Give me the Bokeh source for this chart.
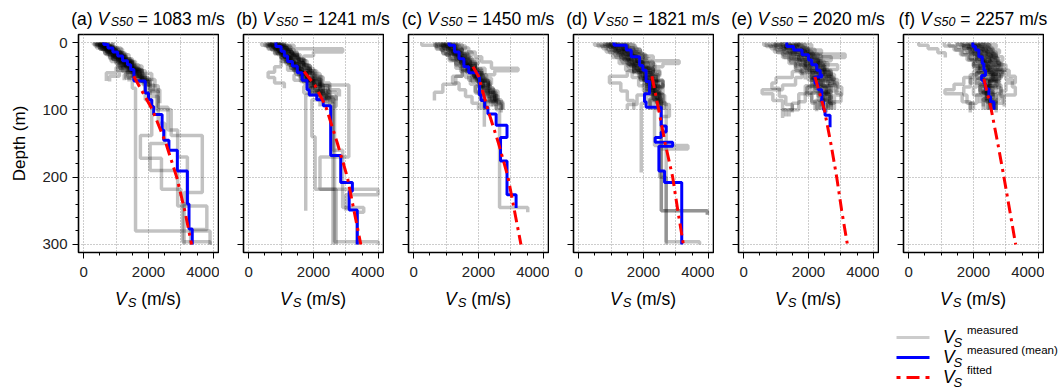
import math
from bokeh.plotting import figure
from bokeh.models import Range1d, FixedTicker, Div, Spacer
from bokeh.layouts import row, column
from bokeh.embed import file_html
from bokeh.resources import INLINE

FONT = "Liberation Sans"

# ---------------- data ----------------
PANEL_LETTERS = ["a", "b", "c", "d", "e", "f"]
VS50 = [1083, 1241, 1450, 1821, 2020, 2257]

X_TICKS = [0, 2000, 4000]
X_MINOR = [0, 500, 1000, 1500, 2000, 2500, 3000, 3500, 4000]
X_GRID = [0, 1000, 2000, 3000, 4000]
Y_TICKS = [0, 100, 200, 300]
Y_MINOR = [0, 20, 40, 60, 80, 100, 120, 140, 160, 180, 200, 220, 240, 260, 280, 300]

# measured profiles: [layer boundary depths (m)], [Vs of each layer (m/s)]
MEAS_A = [
    [[0, 5, 10, 16, 24, 32, 40], [350, 500, 650, 800, 1000, 1150]],
    [[0, 4, 9, 15, 21, 28, 36, 45], [450, 600, 750, 900, 1100, 1300, 1500]],
    [[0, 6, 12, 18, 26, 34, 44, 52], [550, 700, 850, 1050, 1250, 1400, 1650]],
    [[0, 3, 8, 14, 20, 28, 38, 50, 60], [600, 800, 950, 1150, 1300, 1500, 1700, 1900]],
    [[0, 5, 11, 19, 27, 35, 46, 58], [700, 900, 1100, 1300, 1500, 1800, 2100]],
    [[2, 8, 14, 22, 30, 38, 48], [500, 750, 950, 1200, 1400, 1600]],
    [[0, 7, 15, 24, 33, 42, 55, 68], [800, 1000, 1250, 1450, 1700, 1900, 2200]],
    [[0, 4, 10, 18, 25, 34, 42, 50, 58], [400, 550, 700, 900, 1150, 1350, 1100, 800]],
    [[0, 6, 13, 21, 30, 40, 52, 64, 75], [650, 850, 1050, 1300, 1550, 1750, 2000, 2300]],
    [[0, 8, 18, 28, 40, 55, 70, 90], [900, 1150, 1400, 1600, 1800, 2050, 2350]],
    [[0, 5, 12, 20, 30, 37, 45, 57], [500, 700, 900, 1100, 1300, 1000, 700]],
    [[0, 3, 7, 12, 18, 24, 30, 37, 45, 52], [300, 450, 600, 750, 900, 1050, 1200, 1350, 1500]],
    [[0, 4, 8, 13, 19, 26, 33, 41, 50, 60], [550, 650, 800, 950, 1100, 1250, 1400, 1550, 1750]],
    [[0, 2, 6, 11, 17, 23, 29, 36, 44, 55, 65], [450, 600, 750, 850, 1000, 1150, 1300, 1450, 1650, 1850]],
    [[0, 5, 10, 15, 21, 28, 35, 43, 52, 62, 72], [700, 850, 1000, 1150, 1300, 1450, 1600, 1750, 1950, 2150]],
    [[0, 3, 9, 14, 20, 27, 34, 42, 50, 58, 66], [350, 550, 700, 900, 1050, 1200, 1400, 1600, 1800, 2000]],
    [[0, 6, 12, 17, 23, 30, 38, 46, 54], [600, 750, 950, 1100, 1250, 1450, 1650, 1850]],
    [[0, 3, 6, 10, 14, 19, 24, 30, 36, 43, 50, 58], [400, 800, 600, 1000, 800, 1200, 1000, 1500, 1200, 1700, 1400]],
    [[0, 4, 8, 12, 17, 22, 28, 34, 41, 48, 56], [700, 400, 900, 650, 1100, 850, 1350, 1050, 1600, 1250]],
    [[0, 5, 9, 14, 19, 25, 31, 38, 45, 53, 62], [500, 900, 700, 1200, 900, 1400, 1100, 1700, 1300, 1900]],
    [[0, 10, 22, 36, 52, 68, 280, 300], [500, 800, 1100, 1350, 1500, 1600, 3900]],
    [[0, 9, 20, 33, 47, 60, 85, 138, 172, 218, 228], [650, 950, 1250, 1500, 1750, 1900, 2100, 1750, 2400, 3000]],
    [[0, 7, 16, 28, 42, 58, 80, 120, 150, 190, 243, 278, 300], [750, 1050, 1300, 1550, 1800, 2050, 2300, 2500, 2050, 2900, 3800, 3300]],
    [[0, 6, 14, 25, 40, 57, 75, 100, 138, 223, 300], [600, 850, 1150, 1450, 1700, 1900, 2250, 2700, 3660, 3100]],
    [[0, 10, 24, 40, 56, 72, 96, 130, 170, 240, 296, 300], [900, 1200, 1500, 1800, 2000, 2300, 2600, 2900, 3200, 3050, 3900]],
]
MEAS_B = [
    [[0, 5, 11, 18, 26, 34, 42, 50], [500, 700, 900, 1100, 1250, 1400, 1600]],
    [[0, 4, 9, 15, 22, 30, 38, 48, 58], [600, 800, 950, 1100, 1300, 1450, 1650, 1800]],
    [[0, 6, 12, 20, 28, 37, 46, 56, 66], [700, 900, 1050, 1250, 1400, 1600, 1800, 2000]],
    [[0, 3, 8, 14, 21, 29, 38, 50, 62, 75], [800, 1000, 1200, 1350, 1550, 1700, 1900, 2100, 2300]],
    [[0, 5, 10, 17, 25, 33, 42, 55, 68, 80, 90], [900, 1150, 1300, 1500, 1650, 1850, 2050, 2250, 2450, 2600]],
    [[0, 4, 10, 16, 24, 32, 40], [400, 600, 800, 1000, 1150, 1300]],
    [[0, 4, 9, 14, 20, 28], [1100, 1400, 2900, 2000, 1700]],
    [[0, 6, 14, 22, 30, 40, 50, 60, 72, 84], [650, 850, 1000, 1200, 1350, 1550, 1700, 1900, 2200]],
    [[20, 28, 36, 44, 52, 60, 68], [1300, 1000, 800, 600, 800, 1100]],
    [[0, 3, 7, 12, 18, 24, 31, 39, 47, 56, 66, 76, 88], [600, 750, 900, 1050, 1200, 1350, 1500, 1650, 1800, 1950, 2150, 2350]],
    [[0, 4, 9, 15, 21, 28, 36, 44, 53, 62, 72, 82, 92], [700, 850, 1000, 1150, 1300, 1450, 1600, 1800, 2000, 2200, 2400, 2600]],
    [[0, 2, 6, 11, 17, 23, 30, 38, 46, 55, 64, 74, 86], [800, 950, 1100, 1250, 1400, 1550, 1700, 1850, 2000, 2200, 2450, 2700]],
    [[0, 5, 10, 16, 23, 30, 38, 47, 57, 67, 78, 90], [550, 700, 850, 1000, 1150, 1300, 1450, 1650, 1850, 2100, 2400]],
    [[0, 3, 8, 13, 19, 26, 34, 42, 51, 60, 70, 80], [900, 1050, 1200, 1350, 1550, 1750, 1900, 2100, 2300, 2500, 2800]],
    [[0, 4, 9, 14, 20, 27, 35, 43, 52, 61, 71, 82, 92], [650, 800, 950, 1100, 1250, 1400, 1550, 1700, 1850, 2050, 2250, 2500]],
    [[0, 3, 6, 10, 14, 19, 24, 30, 36, 43, 50, 58, 67, 77, 88], [700, 1100, 800, 1300, 1000, 1500, 1200, 1700, 1400, 1900, 1600, 2200, 1900, 2500]],
    [[0, 4, 8, 12, 17, 22, 28, 34, 41, 48, 56, 65, 75, 86], [1000, 600, 1200, 800, 1400, 1000, 1600, 1200, 1800, 1400, 2100, 1700, 2400]],
    [[0, 5, 9, 14, 19, 25, 31, 38, 45, 53, 62, 72, 83, 95], [900, 1300, 1000, 1500, 1200, 1700, 1400, 1900, 1600, 2200, 1900, 2500, 2200]],
    [[0, 8, 16, 25, 35, 45, 55, 65, 78, 250], [750, 950, 1150, 1350, 1600, 1800, 2000, 2300, 1760]],
    [[0, 5, 12, 20, 30, 42, 56, 70, 85, 296, 300], [850, 1050, 1250, 1450, 1700, 1950, 2200, 2400, 2650, 4000]],
    [[0, 7, 15, 24, 34, 46, 63, 170, 218, 300], [1100, 1300, 1500, 1700, 1900, 2200, 3090, 2200, 2700]],
    [[0, 6, 14, 23, 33, 45, 60, 85, 140, 218, 226, 250], [950, 1150, 1350, 1550, 1800, 2000, 2200, 1950, 2050, 3990, 3000]],
    [[0, 5, 13, 22, 32, 44, 58, 72, 90, 160, 245, 252, 300], [700, 900, 1100, 1300, 1550, 1750, 2000, 2300, 2600, 2900, 3550, 3350]],
    [[0, 4, 10, 18, 27, 38, 50, 64, 80, 95, 300], [1000, 1200, 1400, 1600, 1800, 2000, 2250, 2500, 2700, 2600]],
]
MEAS_C = [
    [[0, 4, 10, 16, 24, 32, 42], [250, 700, 900, 1100, 1300, 1500]],
    [[0, 5, 11, 18, 26, 35, 45, 55], [650, 850, 1000, 1200, 1400, 1650, 1900]],
    [[0, 4, 9, 16, 23, 31, 40, 50, 62], [800, 950, 1100, 1300, 1450, 1650, 1850, 2050]],
    [[0, 6, 13, 21, 30, 40, 52, 65, 80, 95], [900, 1100, 1250, 1450, 1600, 1800, 2000, 2200, 2400]],
    [[0, 5, 12, 20, 28, 38, 48, 60, 74, 88, 100], [1000, 1200, 1400, 1550, 1750, 1950, 2150, 2350, 2550, 2750]],
    [[0, 7, 15, 24, 34, 44, 56, 70, 85, 100], [1100, 1300, 1500, 1700, 1900, 2100, 2300, 2500, 2700]],
    [[0, 3, 8, 14, 21, 29, 38, 42, 48, 60], [1300, 1500, 1700, 1900, 2100, 2400, 3220, 2500, 2200]],
    [[0, 8, 17, 27, 38, 50, 62, 74, 86], [700, 900, 1100, 1300, 1500, 1300, 900, 640]],
    [[0, 4, 9, 15, 22, 29, 37, 45, 54, 64, 75, 87, 100], [900, 1050, 1200, 1350, 1500, 1650, 1800, 1950, 2100, 2250, 2400, 2550]],
    [[0, 3, 8, 14, 20, 27, 35, 44, 53, 63, 74, 86, 100], [1000, 1150, 1300, 1450, 1600, 1750, 1900, 2050, 2200, 2350, 2500, 2650]],
    [[0, 5, 11, 17, 24, 32, 40, 49, 58, 68, 79, 90, 100], [1150, 1300, 1450, 1600, 1750, 1900, 2000, 2150, 2300, 2450, 2600, 2750]],
    [[0, 2, 7, 12, 18, 25, 33, 41, 50, 60, 70, 82, 95], [800, 950, 1100, 1250, 1400, 1550, 1700, 1850, 2000, 2150, 2300, 2450]],
    [[0, 4, 10, 16, 23, 31, 39, 48, 57, 67, 78, 90], [1200, 1350, 1500, 1650, 1800, 1950, 2100, 2250, 2350, 2450, 2550]],
    [[0, 6, 12, 19, 26, 34, 43, 52, 62, 73, 85, 100], [700, 850, 1000, 1150, 1300, 1450, 1600, 1750, 1900, 2050, 2200]],
    [[0, 3, 6, 10, 14, 19, 24, 30, 36, 43, 50, 58, 67, 77, 88, 100], [1000, 1400, 1100, 1500, 1300, 1700, 1400, 1900, 1600, 2100, 1800, 2300, 2000, 2500, 2200]],
    [[0, 4, 8, 12, 17, 22, 28, 34, 41, 48, 56, 65, 75, 86, 100], [1300, 900, 1500, 1200, 1700, 1400, 1900, 1500, 2100, 1700, 2300, 1900, 2500, 2100]],
    [[0, 5, 9, 14, 19, 25, 31, 38, 45, 53, 62, 72, 83, 95], [1200, 1600, 1300, 1800, 1500, 2000, 1700, 2200, 1900, 2400, 2100, 2600, 2300]],
    [[0, 5, 12, 20, 30, 40, 52, 64, 78, 125], [850, 1050, 1250, 1450, 1650, 1850, 2000, 2100, 2180]],
    [[0, 6, 14, 23, 33, 45, 58, 72, 88, 100, 245, 252], [950, 1150, 1350, 1550, 1750, 1950, 2150, 2350, 2550, 2650, 3520]],
    [[10, 18, 26, 34, 42, 50, 60, 70, 80, 90, 100], [1200, 1400, 1600, 1800, 1500, 1200, 1400, 1600, 1800, 2000]],
    [[0, 4, 10, 17, 25, 34, 44, 55, 67, 80, 92, 104], [750, 950, 1100, 1300, 1500, 1700, 1900, 2100, 2300, 2500, 2700]],
]
MEAS_D = [
    [[0, 4, 9, 15, 22, 30, 38, 46], [490, 750, 950, 1150, 1350, 1550, 1700]],
    [[0, 5, 11, 18, 26, 35, 45, 56, 68], [700, 900, 1100, 1300, 1500, 1700, 1900, 2100]],
    [[0, 4, 10, 17, 25, 34, 44, 55, 67, 80], [850, 1050, 1250, 1450, 1650, 1850, 2050, 2250, 2400]],
    [[0, 6, 13, 21, 30, 40, 51, 63, 76, 90, 100], [1000, 1200, 1400, 1600, 1800, 2000, 2200, 2350, 2500, 2550]],
    [[0, 5, 12, 20, 28, 37, 47, 58, 70, 84, 100], [1150, 1350, 1550, 1750, 1950, 2150, 2300, 2450, 2350, 2200]],
    [[0, 3, 8, 14, 20, 27, 31, 36, 45], [1300, 1500, 1700, 1950, 2300, 3100, 2600, 2300]],
    [[0, 7, 15, 24, 33, 43, 50, 60, 72, 86, 100], [950, 1150, 1350, 1550, 1750, 1500, 950, 1300, 1500, 1700]],
    [[0, 6, 14, 22, 31, 41, 52, 64, 78, 92, 100], [600, 850, 1050, 1250, 1450, 1650, 1850, 2050, 1800, 1500]],
    [[0, 3, 8, 13, 19, 26, 34, 43, 52, 62, 73, 86, 100], [1000, 1150, 1300, 1450, 1600, 1750, 1900, 2050, 2200, 2350, 2450, 2550]],
    [[0, 4, 9, 15, 21, 28, 36, 45, 55, 65, 76, 88, 100], [1200, 1350, 1500, 1650, 1800, 1950, 2100, 2250, 2400, 2500, 2600, 2650]],
    [[0, 2, 6, 11, 17, 24, 32, 41, 50, 60, 71, 83, 100], [900, 1050, 1200, 1350, 1500, 1650, 1800, 1950, 2100, 2250, 2400, 2550]],
    [[0, 5, 10, 16, 23, 30, 38, 47, 57, 67, 78, 90, 100], [1400, 1550, 1700, 1850, 2000, 2150, 2300, 2450, 2350, 2250, 2400, 2500]],
    [[0, 3, 7, 12, 18, 25, 33, 42, 51, 61, 72, 84, 100], [800, 950, 1100, 1250, 1400, 1550, 1700, 1850, 2000, 2150, 2300, 2400]],
    [[0, 4, 10, 17, 24, 32, 40, 49, 59, 70, 82, 100], [1600, 1750, 1900, 2050, 2200, 2350, 2200, 2050, 2150, 2300, 2450]],
    [[0, 3, 6, 10, 14, 19, 24, 30, 36, 43, 50, 58, 67, 77, 88, 100], [1200, 1700, 1300, 1900, 1500, 2100, 1700, 2300, 1900, 2500, 2100, 2600, 2200, 2600, 2300]],
    [[0, 4, 8, 12, 17, 22, 28, 34, 41, 48, 56, 65, 75, 86, 100], [1500, 1100, 1800, 1400, 2000, 1600, 2300, 1800, 2500, 2000, 2600, 2100, 2500, 2200]],
    [[0, 5, 9, 14, 19, 25, 31, 38, 45, 53, 62, 72, 83, 95], [1000, 1500, 1200, 1800, 1500, 2100, 1700, 2300, 1900, 2400, 2000, 2500, 2200]],
    [[5, 12, 20, 28, 37, 46, 56, 66, 78, 90, 193], [1400, 1600, 1800, 2000, 2200, 2400, 2600, 2300, 2100, 1930]],
    [[0, 5, 11, 18, 26, 35, 45, 56, 68, 82, 250, 256], [800, 1000, 1200, 1400, 1600, 1800, 2000, 2200, 2400, 2550, 3970]],
    [[0, 6, 13, 22, 32, 43, 55, 70, 85, 100, 153, 158, 200, 296, 300], [900, 1100, 1300, 1500, 1700, 1900, 2100, 2300, 2450, 2340, 3370, 2500, 2700, 3730]],
    [[0, 4, 10, 18, 28, 39, 51, 64, 78, 92, 110, 250, 256], [1100, 1300, 1500, 1700, 1900, 2100, 2300, 2500, 2650, 2800, 2550, 3970]],
    [[0, 5, 12, 20, 29, 39, 50, 62, 75, 90, 300], [1200, 1400, 1600, 1800, 2000, 2200, 2400, 2600, 2500, 2700]],
]
MEAS_E = [
    [[0, 4, 9, 15, 22, 30, 38, 46, 55], [620, 850, 1050, 1250, 1450, 1600, 1750, 1900]],
    [[0, 5, 11, 18, 26, 35, 45, 56, 68, 80], [800, 1000, 1200, 1400, 1600, 1800, 2000, 2200, 2350]],
    [[0, 4, 10, 17, 25, 34, 44, 55, 67, 80, 95], [950, 1150, 1350, 1550, 1750, 1950, 2150, 2350, 2550, 2700]],
    [[0, 6, 13, 21, 30, 40, 51, 63, 76, 90, 100], [1100, 1300, 1500, 1700, 1900, 2100, 2300, 2500, 2650, 2800]],
    [[0, 5, 12, 17, 22, 30, 40, 50, 60, 72, 86, 100], [1200, 1500, 1900, 3130, 2400, 2300, 2500, 2700, 2900, 2600, 2400]],
    [[0, 7, 15, 24, 33, 43, 52, 60, 68, 80, 92, 104], [1000, 1250, 1450, 1650, 1850, 1500, 1000, 870, 1100, 1300, 1500]],
    [[0, 6, 14, 22, 31, 41, 52, 63, 70, 76, 86, 100, 110], [700, 950, 1200, 1400, 1600, 1800, 1600, 1200, 570, 900, 1200, 1300]],
    [[2, 8, 15, 23, 32, 42, 52, 63, 75, 88, 100], [1300, 1600, 1850, 2050, 2250, 2450, 2650, 2850, 3000, 2700]],
    [[0, 5, 11, 18, 26, 35, 45, 55, 66, 78, 90, 100], [1400, 1650, 1900, 2100, 2300, 2500, 2700, 2900, 3025, 2800, 2600]],
    [[0, 4, 10, 17, 25, 33, 42, 52, 63, 75, 88, 100, 110], [900, 1100, 1300, 1500, 1700, 1900, 2050, 2200, 2100, 1900, 1700, 1400]],
    [[10, 18, 26, 34, 43, 53, 64, 76, 90, 100, 112], [1500, 1700, 1900, 2100, 2300, 2100, 1900, 1700, 1500, 1200]],
    [[0, 3, 8, 14, 20, 27, 35, 44, 54, 65, 77, 90, 100], [1300, 1450, 1600, 1750, 1900, 2050, 2200, 2350, 2450, 2550, 2650, 2700]],
    [[0, 4, 9, 15, 22, 30, 38, 47, 57, 68, 80, 92, 104], [1500, 1650, 1800, 1950, 2100, 2250, 2400, 2550, 2400, 2300, 2450, 2550]],
    [[0, 2, 7, 12, 18, 25, 33, 42, 52, 63, 75, 88, 100], [1150, 1300, 1450, 1600, 1750, 1900, 2050, 2200, 2300, 2200, 2100, 2300]],
    [[0, 5, 10, 16, 23, 31, 40, 50, 61, 73, 86, 100], [1700, 1850, 2000, 2150, 2300, 2450, 2600, 2750, 2650, 2500, 2600]],
    [[0, 3, 9, 15, 21, 28, 36, 45, 55, 66, 78, 90, 102], [1000, 1200, 1400, 1600, 1800, 1950, 2100, 2250, 2100, 1950, 2100, 2250]],
    [[0, 4, 8, 13, 19, 26, 34, 43, 53, 64, 76, 88, 100], [1600, 1800, 1950, 2100, 2200, 2350, 2500, 2650, 2800, 2600, 2450, 2350]],
    [[0, 3, 6, 10, 14, 19, 24, 30, 36, 43, 50, 58, 67, 77, 88, 100], [1400, 1900, 1600, 2200, 1800, 2400, 2000, 2600, 2200, 2700, 2300, 2800, 2400, 2700, 2500]],
    [[0, 4, 8, 12, 17, 22, 28, 34, 41, 48, 56, 65, 75, 86, 100], [1700, 1300, 2000, 1600, 2300, 1800, 2500, 2000, 2700, 2100, 2600, 2000, 2500, 2200]],
    [[0, 5, 9, 14, 19, 25, 31, 38, 45, 53, 62, 72, 83, 95], [1200, 1700, 1400, 2000, 1700, 2300, 1900, 2500, 2100, 2600, 2200, 2700, 2400]],
    [[0, 3, 7, 11, 16, 21, 27, 33, 40, 47, 55, 64, 74, 85, 97], [1600, 2100, 1800, 2400, 2000, 2700, 2200, 2900, 2300, 2800, 2400, 2700, 2300, 2600]],
]
MEAS_F = [
    [[0, 4, 9, 15, 22], [310, 600, 900, 1130]],
    [[0, 5, 11, 18, 26, 35, 45, 56, 68, 80], [1250, 1450, 1650, 1850, 2000, 2150, 2300, 2450, 2600]],
    [[0, 4, 10, 17, 25, 34, 44, 55, 67, 80, 95], [1650, 1850, 2000, 2150, 2300, 2450, 2600, 2750, 2850, 2950]],
    [[0, 6, 13, 21, 30, 40, 51, 63, 76, 90, 100], [1800, 1950, 2100, 2250, 2400, 2550, 2700, 2850, 2700, 2600]],
    [[0, 5, 12, 20, 28, 37, 47, 58, 70, 84, 100], [1900, 2100, 2250, 2400, 2550, 2650, 2800, 2600, 2400, 2300]],
    [[0, 7, 15, 24, 33, 43, 52, 62, 70, 76, 88, 100], [1500, 1700, 1900, 2050, 2200, 2000, 1700, 1400, 1120, 1650, 1900]],
    [[0, 6, 14, 22, 31, 41, 50, 60, 72, 85, 100], [2200, 2400, 2600, 2750, 2900, 3100, 3290, 3000, 2800, 2700]],
    [[0, 4, 10, 17, 25, 34, 44, 55, 66, 78, 90, 104], [2000, 2200, 2400, 2550, 2700, 2800, 3000, 3200, 3290, 2900, 2700]],
    [[0, 5, 11, 18, 26, 35, 45, 55, 66, 78, 90, 100], [1100, 1400, 1600, 1800, 2000, 2200, 2100, 1900, 1700, 1800, 2000]],
    [[0, 3, 8, 14, 20, 28, 38, 48, 60, 74, 88, 100], [2400, 2500, 2600, 2700, 2500, 2300, 2100, 1900, 2200, 2400, 2550]],
    [[2, 9, 17, 26, 36, 46, 56, 66, 78, 90, 104], [1700, 1900, 2100, 2300, 2500, 2700, 2500, 2300, 2100, 1900]],
    [[0, 3, 8, 14, 20, 27, 35, 44, 54, 65, 77, 90, 100], [1900, 2000, 2100, 2200, 2300, 2400, 2500, 2600, 2500, 2400, 2500, 2600]],
    [[0, 4, 9, 15, 22, 30, 38, 47, 57, 68, 80, 92, 100], [2100, 2200, 2300, 2400, 2500, 2600, 2700, 2600, 2500, 2400, 2500, 2650]],
    [[0, 2, 7, 12, 18, 25, 33, 42, 52, 63, 75, 88, 100], [1700, 1850, 2000, 2150, 2250, 2350, 2450, 2300, 2200, 2300, 2400, 2500]],
    [[0, 5, 10, 16, 23, 31, 40, 50, 61, 73, 86, 100], [2300, 2450, 2550, 2650, 2750, 2850, 2700, 2550, 2400, 2300, 2450]],
    [[0, 3, 9, 15, 21, 28, 36, 45, 55, 66, 78, 90], [1500, 1700, 1900, 2000, 2100, 2200, 2300, 2200, 2100, 2000, 2200]],
    [[0, 4, 8, 13, 19, 26, 34, 43, 53, 64, 76, 88, 100], [2000, 2150, 2300, 2450, 2550, 2650, 2750, 2850, 2650, 2500, 2600, 2700]],
    [[0, 3, 6, 10, 14, 19, 24, 30, 36, 43, 50, 58, 67, 77, 88, 100], [2000, 2500, 2100, 2600, 2200, 2700, 2300, 2800, 2400, 2900, 2400, 2800, 2400, 2700, 2500]],
    [[0, 4, 8, 12, 17, 22, 28, 34, 41, 48, 56, 65, 75, 86, 100], [2300, 1800, 2500, 2000, 2700, 2100, 2800, 2200, 2900, 2300, 2700, 2200, 2600, 2400]],
    [[0, 5, 9, 14, 19, 25, 31, 38, 45, 53, 62, 72, 83, 95], [1600, 2100, 1800, 2300, 1900, 2500, 2000, 2600, 2100, 2500, 2200, 2600, 2300]],
    [[0, 3, 7, 11, 16, 21, 27, 33, 40, 47, 55, 64, 74, 85, 97], [2200, 2700, 2300, 2800, 2400, 2900, 2500, 3000, 2400, 2800, 2300, 2700, 2400, 2600]],
]

# mean measured profiles (blue)
MEAN_A_DEPTH = [0, 3, 8, 14, 20, 27, 33, 40, 57, 75, 85, 95, 107, 130, 145, 160, 191, 240, 277, 300]
MEAN_A_VS = [620, 750, 900, 1050, 1200, 1350, 1450, 1550, 1900, 2000, 2100, 2160, 2420, 2470, 2630, 2890, 3200, 3250, 3350]
MEAN_B_DEPTH = [0, 6, 13, 20, 28, 35, 45, 56, 70, 78, 85, 94, 168, 208, 221, 249, 300]
MEAN_B_VS = [840, 1000, 1100, 1200, 1350, 1500, 1650, 1800, 1870, 2100, 2300, 2530, 2840, 3200, 3100, 3350]
MEAN_C_DEPTH = [0, 4, 14, 24, 36, 45, 51, 78, 86, 96, 106, 123, 141, 176, 226, 246]
MEAN_C_VS = [1090, 1260, 1400, 1550, 1700, 1980, 2030, 2080, 2190, 2290, 2545, 2880, 2680, 2880, 3160]
MEAN_D_DEPTH = [0, 4, 11, 21, 34, 41, 58, 76, 88, 96, 124, 133, 141, 148, 154, 191, 208, 300]
MEAN_D_VS = [1090, 1470, 1620, 1880, 1980, 2080, 2185, 2030, 2080, 2545, 2700, 2545, 2360, 2900, 2475, 2650, 3180]
MEAN_E_DEPTH = [0, 6, 11, 18, 26, 33, 41, 48, 51, 61, 70, 88, 100, 108, 126]
MEAN_E_VS = [1330, 1540, 1800, 2000, 2100, 2255, 2360, 2410, 2200, 2300, 2410, 2460, 2510, 2665]
MEAN_F_DEPTH = [0, 6, 11, 21, 31, 41, 49, 56, 61, 69, 80, 88, 100]
MEAN_F_VS = [1980, 2060, 2165, 2270, 2320, 2370, 2250, 2320, 2370, 2475, 2525, 2630]

# fitted profiles (red)
FIT_A_DEPTH = [50, 100, 150, 200, 250, 300]
FIT_A_VS = [1545, 2120, 2540, 2870, 3120, 3330]
FIT_B_DEPTH = [43, 64, 95, 150, 200, 250, 300]
FIT_B_VS = [1710, 2050, 2380, 2740, 3045, 3250, 3460]
FIT_C_DEPTH = [36, 50, 100, 150, 200, 250, 300]
FIT_C_VS = [1830, 2000, 2290, 2620, 2910, 3110, 3310]
FIT_D_DEPTH = [50, 100, 150, 200, 250, 300]
FIT_D_VS = [2260, 2470, 2670, 2900, 3060, 3230]
FIT_E_DEPTH = [51, 100, 150, 200, 250, 300]
FIT_E_VS = [2200, 2490, 2690, 2870, 3025, 3200]
FIT_F_DEPTH = [54, 100, 150, 200, 250, 300]
FIT_F_VS = [2320, 2550, 2750, 2940, 3120, 3300]

LEGEND_SUPS = ["measured", "measured (mean)", "fitted"]

PANELS = [
    (MEAS_A, MEAN_A_DEPTH, MEAN_A_VS, FIT_A_DEPTH, FIT_A_VS),
    (MEAS_B, MEAN_B_DEPTH, MEAN_B_VS, FIT_B_DEPTH, FIT_B_VS),
    (MEAS_C, MEAN_C_DEPTH, MEAN_C_VS, FIT_C_DEPTH, FIT_C_VS),
    (MEAS_D, MEAN_D_DEPTH, MEAN_D_VS, FIT_D_DEPTH, FIT_D_VS),
    (MEAS_E, MEAN_E_DEPTH, MEAN_E_VS, FIT_E_DEPTH, FIT_E_VS),
    (MEAS_F, MEAN_F_DEPTH, MEAN_F_VS, FIT_F_DEPTH, FIT_F_VS),
]


# ---------------- helpers ----------------
def step_path(depths, vels):
    xs, ys = [], []
    for i in range(min(len(vels), len(depths) - 1)):
        xs += [vels[i], vels[i]]
        ys += [depths[i], depths[i + 1]]
    return xs, ys


SIDE_W = 1058
HEAD_H = 33
FRAME_W, FRAME_H = 140, 218
PANEL_TOP, PANEL_BOTTOM = 1, 34
PANEL_H = PANEL_TOP + FRAME_H + PANEL_BOTTOM
XLAB_H = 30
LEG_H = 390 - HEAD_H - PANEL_H - XLAB_H
X_LO, X_HI = -160, 4160
Y_TOP, Y_BOT = -12, 312
FIRST_LEFT = 78
GAP = 24
FRAME_LEFTS = [FIRST_LEFT + i * (FRAME_W + 1 + GAP) for i in range(6)]
LINE_H = 20


def top_for(baseline, fs):
    # top of a line box (line-height LINE_H) whose alphabetic baseline sits at `baseline`
    return baseline - (LINE_H / 2.0 + fs * (0.905 - 0.5585))


def abs_span(inner, left, baseline, fs, center=False, extra=""):
    tr = "transform:translateX(-50%);" if center else ""
    return (f'<span style="position:absolute;left:{left:.1f}px;top:{top_for(baseline, fs):.2f}px;'
            f'{tr}white-space:pre;font-size:{fs}px;line-height:{LINE_H}px;{extra}">{inner}</span>')


def container(w, h, spans):
    return (f'<div style="position:relative;width:{w}px;height:{h}px;overflow:visible;'
            f'font-family:\'{FONT}\',sans-serif;color:black;">' + "".join(spans) + '</div>')


def sub(t, fs, dy, ml):
    return (f'<span style="font-size:{fs}px;font-style:italic;position:relative;'
            f'top:{dy}px;margin-left:{ml}px;">{t}</span>')


# ---------------- header (panel titles) ----------------
title_spans = []
for i in range(6):
    inner = (f'({PANEL_LETTERS[i]}) <i>V</i>' + sub("S50", 12.5, 1.5, 1.5) +
             f' = {VS50[i]} m/s')
    title_spans.append(abs_span(inner, FRAME_LEFTS[i] + FRAME_W / 2.0, 25, 17.5, center=True))
head = Div(text=container(SIDE_W, HEAD_H, title_spans), width=SIDE_W, height=HEAD_H, margin=0)

# ---------------- panels ----------------
figs = []
for i, (meas, md, mv, fd, fv) in enumerate(PANELS):
    first = i == 0
    left = FIRST_LEFT if first else GAP
    right = 1
    p = figure(width=left + FRAME_W + right, height=PANEL_H,
               x_range=Range1d(X_LO, X_HI), y_range=Range1d(Y_BOT, Y_TOP),
               toolbar_location=None, output_backend="svg",
               min_border_left=left, min_border_right=right,
               min_border_top=PANEL_TOP, min_border_bottom=PANEL_BOTTOM)
    p.outline_line_color = "black"
    p.outline_line_width = 1.6

    for ax in (p.xaxis[0], p.yaxis[0]):
        ax.axis_line_color = None
        ax.major_tick_line_color = "black"
        ax.minor_tick_line_color = "black"
        ax.major_tick_in = 0
        ax.minor_tick_in = 0
        ax.major_tick_out = 6
        ax.minor_tick_out = 3
        ax.major_label_text_font = FONT
        ax.major_label_text_font_size = "15px"
        ax.major_label_text_color = "#222222"
    p.xaxis.ticker = FixedTicker(ticks=X_TICKS, minor_ticks=X_MINOR)
    p.yaxis.ticker = FixedTicker(ticks=Y_TICKS, minor_ticks=Y_MINOR)
    p.xaxis.major_label_standoff = 8
    p.yaxis.major_label_standoff = 5
    p.yaxis.major_label_orientation = "horizontal"
    if first:
        p.yaxis.axis_label = "Depth (m)"
        p.yaxis.axis_label_text_font = FONT
        p.yaxis.axis_label_text_font_size = "17px"
        p.yaxis.axis_label_text_font_style = "normal"
        p.yaxis.axis_label_text_color = "black"
        p.yaxis.axis_label_standoff = 10
    else:
        p.yaxis.major_label_overrides = {t: "" for t in Y_TICKS}

    p.xgrid.ticker = FixedTicker(ticks=X_GRID)
    p.ygrid.ticker = FixedTicker(ticks=Y_TICKS)
    for g in (p.xgrid[0], p.ygrid[0]):
        g.grid_line_color = "#9a9a9a"
        g.grid_line_dash = "1 2"
        g.grid_line_width = 1

    xs_list, ys_list = [], []
    for d, v in meas:
        xs, ys = step_path(d, v)
        xs_list.append(xs)
        ys_list.append(ys)
    p.multi_line(xs=xs_list, ys=ys_list, line_color="black", line_alpha=0.24, line_width=3.5)

    mx, my = step_path(md, mv)
    p.line(mx, my, line_color="#0000ff", line_width=3)
    p.line(fv, fd, line_color="#ff0000", line_width=3, line_dash="12 5 3 5")
    figs.append(p)

# ---------------- x-axis labels ----------------
XLAB_TOP = HEAD_H + PANEL_H
xl_spans = []
for i in range(6):
    inner = '<i>V</i>' + sub("S", 13, 2.5, 1.0) + ' (m/s)'
    xl_spans.append(abs_span(inner, FRAME_LEFTS[i] + FRAME_W / 2.0, 305 - XLAB_TOP, 17.5, center=True))
xlab = Div(text=container(SIDE_W, XLAB_H, xl_spans), width=SIDE_W, height=XLAB_H, margin=0)

# ---------------- legend ----------------
LEG_TOP = XLAB_TOP + XLAB_H
KEY_LEFT, KEY_W = 890, 45
TXT_LEFT = KEY_LEFT + KEY_W
keys = figure(width=KEY_W, height=LEG_H, x_range=Range1d(0, KEY_W), y_range=Range1d(LEG_H, 0),
              toolbar_location=None, output_backend="svg",
              x_axis_location=None, y_axis_location=None, min_border=0)
keys.outline_line_color = None
keys.xgrid.visible = False
keys.ygrid.visible = False
styles = [dict(line_color="black", line_alpha=0.2, line_width=3),
          dict(line_color="#0000ff", line_width=3),
          dict(line_color="#ff0000", line_width=3, line_dash="4 6 13 6")]
leg_spans = []
for k, sup in enumerate(LEGEND_SUPS):
    ly = 337 + 20 * k - LEG_TOP
    keys.line([896 - KEY_LEFT, 929 - KEY_LEFT], [ly, ly], **styles[k])
    vx = 943 - TXT_LEFT
    leg_spans.append(abs_span("V", vx, ly + 6, 17.5, extra="font-style:italic;"))
    leg_spans.append(abs_span("S", vx + 10.5, ly + 10.5, 13, extra="font-style:italic;"))
    leg_spans.append(abs_span(sup, vx + 24, ly - 3, 11.5))
TXT_W = SIDE_W - TXT_LEFT
leg_txt = Div(text=container(TXT_W, LEG_H, leg_spans), width=TXT_W, height=LEG_H, margin=0)
legend_row = row(Spacer(width=KEY_LEFT, height=LEG_H, margin=0), keys, leg_txt, spacing=0)

layout = column(head, row(*figs, spacing=0), xlab, legend_row, spacing=0)
open("out.html", "w").write(file_html(layout, INLINE))
